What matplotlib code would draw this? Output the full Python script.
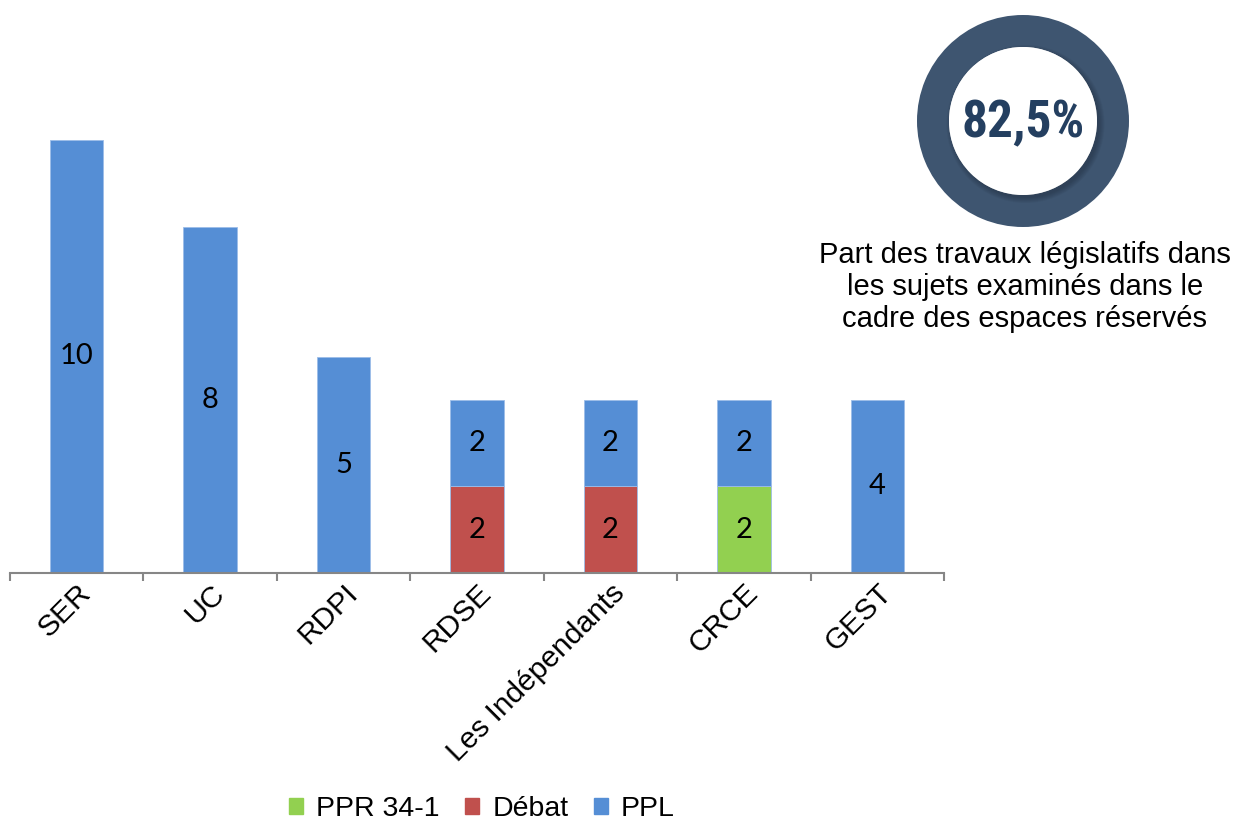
import numpy as np
import matplotlib
matplotlib.use('Agg')
import matplotlib.pyplot as plt
from matplotlib.patches import Circle, Wedge, Patch
from matplotlib import font_manager

plt.rcParams['font.family'] = ['Liberation Sans', 'DejaVu Sans']

# donnees
groupes = ['SER', 'UC', 'RDPI', 'RDSE', 'Les Indépendants', 'CRCE', 'GEST']
ppr = [0, 0, 0, 0, 0, 2, 0]
debat = [0, 0, 0, 2, 2, 0, 0]
ppl = [10, 8, 5, 2, 2, 2, 4]
part = '82,5%'
legende_txt = 'Part des travaux législatifs dans\nles sujets examinés dans le\ncadre des espaces réservés'

c_ppr = '#92D050'
c_debat = '#C0504D'
c_ppl = '#558ED5'

# police etroite pour le pourcentage, si disponible
dispo = {f.name for f in font_manager.fontManager.ttflist}
etroites = ['Liberation Sans Narrow', 'Roboto Condensed', 'Open Sans Condensed',
            'Noto Sans Condensed', 'DejaVu Sans Condensed']
police_pct = next((p for p in etroites if p in dispo), None)
if police_pct is None:
    police_pct, taille_pct = 'Liberation Sans', 34
else:
    taille_pct = 37

W, H = 1237, 823
fig = plt.figure(figsize=(W / 100, H / 100), dpi=100)

# axe principal (en pixels: gauche 10, droite 944, base 573)
px_unit = 43.3
ymax = 12
ax = fig.add_axes([10 / W, (H - 573) / H, 934 / W, ymax * px_unit / H])

x = np.arange(len(groupes))
w = 0.4
ppr = np.array(ppr)
debat = np.array(debat)
ppl = np.array(ppl)

series = [(ppr, np.zeros(len(x)), c_ppr, 'PPR 34-1'),
          (debat, ppr, c_debat, 'Débat'),
          (ppl, ppr + debat, c_ppl, 'PPL')]
for vals, bas, col, lab in series:
    ax.bar(x, vals, w, bottom=bas, color=col, edgecolor='#9dbde8', linewidth=0.6, label=lab)
    for xi, v, b in zip(x, vals, bas):
        if v > 0:
            ax.text(xi, b + v / 2, str(v), ha='center', va='center',
                    fontsize=21, family=['Lato', 'DejaVu Sans'], color='black')

ax.set_xlim(-0.5, len(groupes) - 0.5)
ax.set_ylim(0, ymax)
for s in ['top', 'right', 'left']:
    ax.spines[s].set_visible(False)
ax.spines['bottom'].set_color('#868686')
ax.spines['bottom'].set_linewidth(1.5)
ax.set_yticks([])
ax.set_xticks(x)
ax.set_xticklabels(groupes, rotation=45, ha='right', va='top', rotation_mode='anchor', fontsize=21.5)
ax.tick_params(axis='x', which='major', length=0, pad=4)
ax.set_xticks(np.arange(-0.5, len(groupes)), minor=True)
ax.tick_params(axis='x', which='minor', length=6, width=1.5, color='#868686', direction='out')

# legende
handles = [Patch(color=c_ppr, label='PPR 34-1'), Patch(color=c_debat, label='Débat'),
           Patch(color=c_ppl, label='PPL')]
fig.legend(handles=handles, loc='center', bbox_to_anchor=(482 / W, 1 - 809 / H), ncol=3,
           frameon=False, fontsize=20.5, handlelength=0.5, handleheight=0.5,
           handletextpad=0.45, columnspacing=0.9)

# anneau 82,5%
ov = fig.add_axes([0, 0, 1, 1])
ov.set_xlim(0, W)
ov.set_ylim(H, 0)
ov.axis('off')
cx, cy = 1023, 121
ov.add_patch(Wedge((cx, cy), 106, 0, 360, width=32, color='#3E5570', lw=0))
for i in range(6):
    ov.add_patch(Circle((cx + 2.5, cy + 3), 74 + 5 - i, color='#1a2633', alpha=0.07, lw=0))
ov.add_patch(Circle((cx, cy), 74, color='white', lw=0))
ov.text(cx, cy + 2, part, ha='center', va='center', fontsize=taille_pct, fontweight='bold',
        family=[police_pct, 'DejaVu Sans'], color='#243f60')
ov.text(1025, 287, legende_txt, ha='center', va='center', fontsize=21,
        linespacing=1.2, color='black')

plt.savefig('out.png', dpi=100)
